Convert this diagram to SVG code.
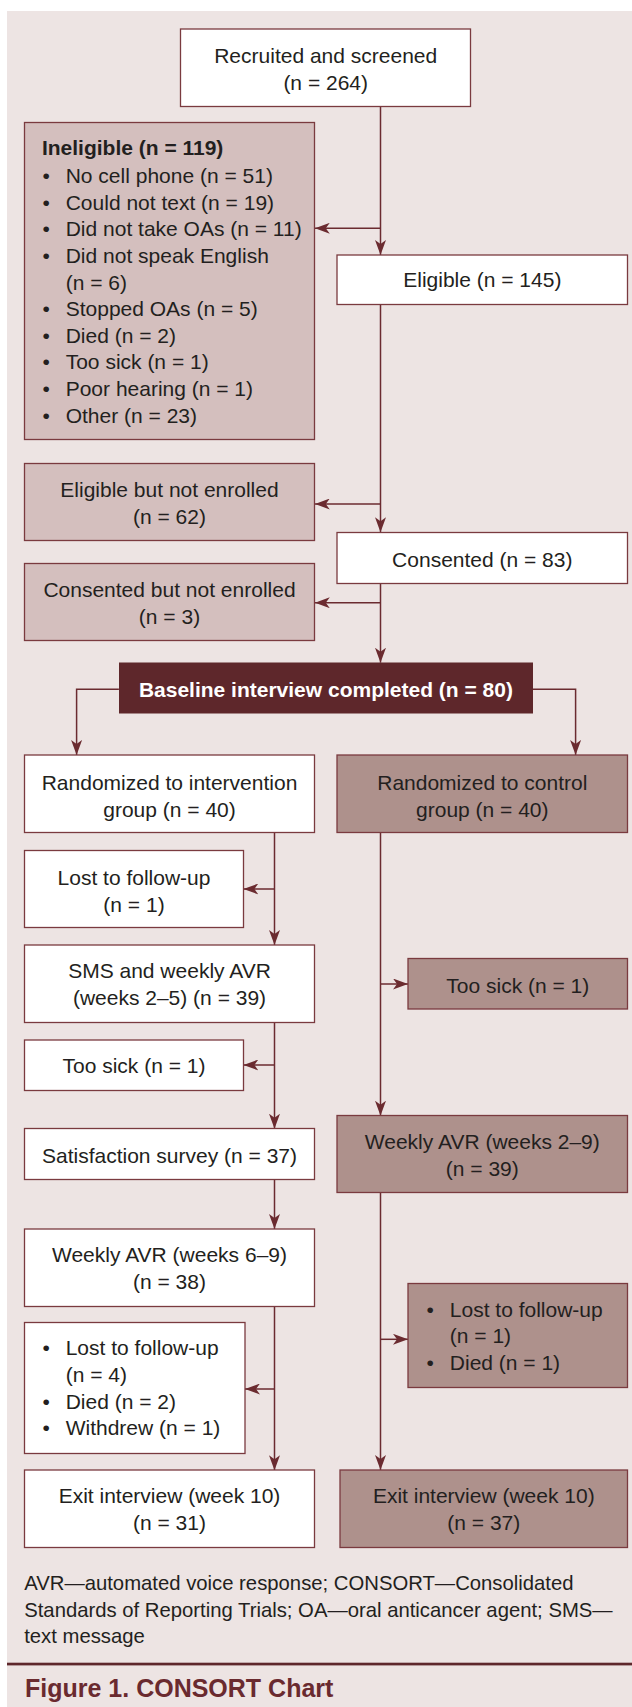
<svg xmlns="http://www.w3.org/2000/svg" width="632" height="1707" viewBox="0 0 632 1707">
<defs>
<style>
.t{font-family:"Liberation Sans",Arial,sans-serif;font-size:21px;fill:#231f20}
.c{text-anchor:middle}
.b{font-weight:bold}
.w{fill:#ffffff;stroke:#7a3a3f;stroke-width:1.3}
.l{fill:#d4bfbe;stroke:#7a3a3f;stroke-width:1.3}
.m{fill:#ae918c;stroke:#7a3a3f;stroke-width:1.3}
.d{fill:#5e272b}
.cn{fill:none;stroke:#6b2b30;stroke-width:1.5;marker-end:url(#ah)}
</style>
<marker id="ah" markerWidth="15" markerHeight="11" refX="15" refY="5.5" orient="auto" markerUnits="userSpaceOnUse"><path d="M0,0 L15,5.5 L0,11 L4,5.5 z" fill="#6b2b30"/></marker>
</defs>
<rect x="0" y="0" width="632" height="1707" fill="#ffffff"/>
<rect x="7" y="11" width="625" height="1696" fill="#ede4e3"/>

<g id="connectors">
<path class="cn" d="M380.5,106.7 V255"/>
<path class="cn" d="M380.5,228.3 H314.8"/>
<path class="cn" d="M380.5,304.6 V532.3"/>
<path class="cn" d="M380.5,504 H314.8"/>
<path class="cn" d="M380.5,583.3 V662.7"/>
<path class="cn" d="M380.5,602.7 H314.8"/>
<path class="cn" d="M118.9,689.3 H76.6 V755"/>
<path class="cn" d="M532.8,689.3 H575.6 V755"/>
<path class="cn" d="M274.5,832.7 V945"/>
<path class="cn" d="M274.5,889 H243.4"/>
<path class="cn" d="M274.5,1022.3 V1128.7"/>
<path class="cn" d="M274.5,1065 H243.4"/>
<path class="cn" d="M274.5,1179.3 V1229"/>
<path class="cn" d="M274.5,1306.7 V1470.3"/>
<path class="cn" d="M274.5,1389 H245"/>
<path class="cn" d="M380.5,832.7 V1115.7"/>
<path class="cn" d="M380.5,984 H408"/>
<path class="cn" d="M380.5,1192.3 V1470"/>
<path class="cn" d="M380.5,1339.3 H408"/>
</g>

<g id="recruited">
<rect class="w" x="180.5" y="29" width="290" height="77.5"/>
<text class="t c" x="325.7" y="63.3">Recruited and screened</text>
<text class="t c" x="325.7" y="90">(n = 264)</text>
</g>

<g id="ineligible">
<rect class="l" x="24.5" y="122.5" width="290" height="317"/>
<text class="t b" x="41.9" y="155">Ineligible (n = 119)</text>
<g class="t">
<text x="42.5" y="182.7">•</text><text x="65.7" y="182.7">No cell phone (n = 51)</text>
<text x="42.5" y="209.5">•</text><text x="65.7" y="209.5">Could not text (n = 19)</text>
<text x="42.5" y="236.2">•</text><text x="65.7" y="236.2">Did not take OAs (n = 11)</text>
<text x="42.5" y="263">•</text><text x="65.7" y="263">Did not speak English</text>
<text x="65.7" y="289.5">(n = 6)</text>
<text x="42.5" y="315.8">•</text><text x="65.7" y="315.8">Stopped OAs (n = 5)</text>
<text x="42.5" y="342.6">•</text><text x="65.7" y="342.6">Died (n = 2)</text>
<text x="42.5" y="369.3">•</text><text x="65.7" y="369.3">Too sick (n = 1)</text>
<text x="42.5" y="396">•</text><text x="65.7" y="396">Poor hearing (n = 1)</text>
<text x="42.5" y="422.7">•</text><text x="65.7" y="422.7">Other (n = 23)</text>
</g>
</g>

<g id="eligible">
<rect class="w" x="337" y="255" width="290.5" height="49.5"/>
<text class="t c" x="482.3" y="287.3">Eligible (n = 145)</text>
</g>

<g id="eligible-not-enrolled">
<rect class="l" x="24.5" y="463.5" width="290" height="77"/>
<text class="t c" x="169.5" y="497.3">Eligible but not enrolled</text>
<text class="t c" x="169.5" y="523.5">(n = 62)</text>
</g>

<g id="consented">
<rect class="w" x="337" y="532.5" width="290.5" height="51"/>
<text class="t c" x="482.3" y="566.7">Consented (n = 83)</text>
</g>

<g id="consented-not-enrolled">
<rect class="l" x="24.5" y="563.5" width="290" height="77"/>
<text class="t c" x="169.5" y="596.5">Consented but not enrolled</text>
<text class="t c" x="169.5" y="623.5">(n = 3)</text>
</g>

<g id="baseline">
<rect class="d" x="119" y="662.5" width="414" height="51"/>
<text class="t c b" x="325.9" y="696.7" style="fill:#ffffff">Baseline interview completed (n = 80)</text>
</g>

<g id="intervention">
<rect class="w" x="24.5" y="755" width="290" height="77.5"/>
<text class="t c" x="169.5" y="790">Randomized to intervention</text>
<text class="t c" x="169.5" y="816.7">group (n = 40)</text>
</g>

<g id="control">
<rect class="m" x="337" y="755" width="290.5" height="77.5"/>
<text class="t c" x="482.3" y="790">Randomized to control</text>
<text class="t c" x="482.3" y="816.7">group (n = 40)</text>
</g>

<g id="lost-int-1">
<rect class="w" x="24.5" y="850.5" width="219" height="77"/>
<text class="t c" x="134" y="885">Lost to follow-up</text>
<text class="t c" x="134" y="911.7">(n = 1)</text>
</g>

<g id="sms">
<rect class="w" x="24.5" y="945" width="290" height="77.5"/>
<text class="t c" x="169.5" y="978.3">SMS and weekly AVR</text>
<text class="t c" x="169.5" y="1005.3">(weeks 2–5) (n = 39)</text>
</g>

<g id="toosick-ctrl">
<rect class="m" x="408" y="958.5" width="219.5" height="50.5"/>
<text class="t c" x="517.8" y="992.7">Too sick (n = 1)</text>
</g>

<g id="toosick-int">
<rect class="w" x="24.5" y="1040" width="219" height="50.5"/>
<text class="t c" x="134" y="1073.3">Too sick (n = 1)</text>
</g>

<g id="satisfaction">
<rect class="w" x="24.5" y="1128.5" width="290" height="51"/>
<text class="t c" x="169.5" y="1162.7">Satisfaction survey (n = 37)</text>
</g>

<g id="weekly-ctrl">
<rect class="m" x="337" y="1115.5" width="290.5" height="77"/>
<text class="t c" x="482.3" y="1149.3">Weekly AVR (weeks 2–9)</text>
<text class="t c" x="482.3" y="1176">(n = 39)</text>
</g>

<g id="weekly-int">
<rect class="w" x="24.5" y="1229" width="290" height="77.5"/>
<text class="t c" x="169.5" y="1262.3">Weekly AVR (weeks 6–9)</text>
<text class="t c" x="169.5" y="1289.3">(n = 38)</text>
</g>

<g id="loss-int-2">
<rect class="w" x="24.5" y="1322.5" width="220.5" height="131"/>
<g class="t">
<text x="42.5" y="1355">•</text><text x="65.7" y="1355">Lost to follow-up</text>
<text x="65.7" y="1381.7">(n = 4)</text>
<text x="42.5" y="1408.5">•</text><text x="65.7" y="1408.5">Died (n = 2)</text>
<text x="42.5" y="1435">•</text><text x="65.7" y="1435">Withdrew (n = 1)</text>
</g>
</g>

<g id="loss-ctrl">
<rect class="m" x="408" y="1283.5" width="219.5" height="104"/>
<g class="t">
<text x="426.6" y="1316.7">•</text><text x="449.8" y="1316.7">Lost to follow-up</text>
<text x="449.8" y="1343.3">(n = 1)</text>
<text x="426.6" y="1370">•</text><text x="449.8" y="1370">Died (n = 1)</text>
</g>
</g>

<g id="exit-int">
<rect class="w" x="24.5" y="1470" width="290" height="77.5"/>
<text class="t c" x="169.5" y="1503.3">Exit interview (week 10)</text>
<text class="t c" x="169.5" y="1530">(n = 31)</text>
</g>

<g id="exit-ctrl">
<rect class="m" x="340" y="1470" width="287.5" height="77.5"/>
<text class="t c" x="483.8" y="1503.3">Exit interview (week 10)</text>
<text class="t c" x="483.8" y="1530">(n = 37)</text>
</g>

<g id="footnote" class="t" style="font-size:20.3px">
<text x="24.2" y="1590">AVR—automated voice response; CONSORT—Consolidated</text>
<text x="24.2" y="1616.7">Standards of Reporting Trials; OA—oral anticancer agent; SMS—</text>
<text x="24.2" y="1643.3">text message</text>
</g>

<rect x="7" y="1662.7" width="625" height="2.7" fill="#5e272b"/>
<text class="t b" x="25" y="1696.7" style="font-size:25px;fill:#6a2a2f">Figure 1. CONSORT Chart</text>
</svg>
